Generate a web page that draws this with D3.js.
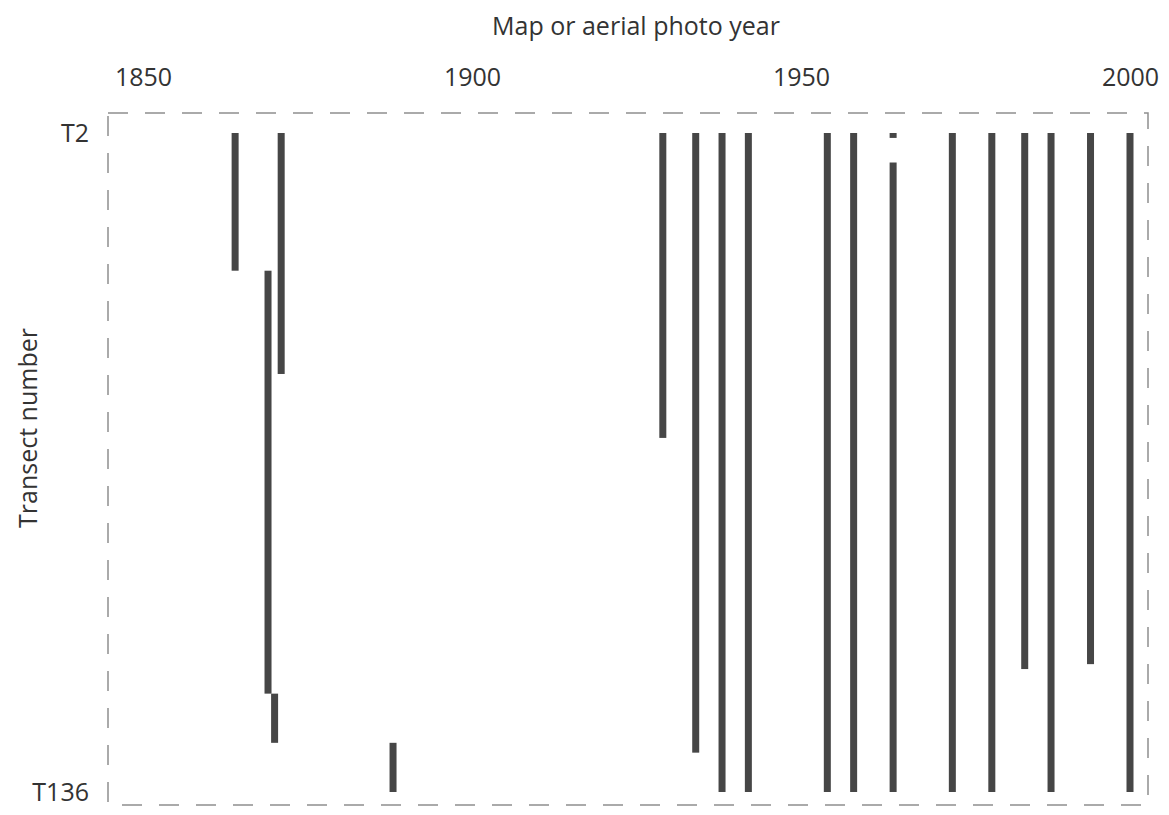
<!DOCTYPE html>
<html>
<head>
<meta charset="utf-8">
<script src="https://cdn.jsdelivr.net/npm/d3@7"></script>
<style>
  body { margin: 0; background: #fff; }
  text { font-family: "Open Sans", "Noto Sans", sans-serif; fill: #333; }
</style>
</head>
<body>
<div id="chartContainer"></div>
<script>
// data
// each bar = one map / aerial photo year covering a run of transects
let years    = [1864, 1869, 1870, 1871, 1888, 1929, 1934, 1938, 1942, 1954, 1958, 1964, 1964, 1973, 1979, 1984, 1988, 1994, 2000];
let start_t  = [2,    30,   116,  2,    126,  2,    2,    2,    2,    2,    2,    2,    8,    2,    2,    2,    2,    2,    2];
let end_t    = [30,   116,  126,  51,   136,  64,   128,  136,  136,  136,  136,  3,    136,  136,  136,  111,  136,  110,  136];

let tick_years = [1850, 1900, 1950, 2000];
let tick_transects = [2, 136];
let tick_transect_labels = ["T2", "T136"];

// chart properties
let BOX_WIDTH = 1169;
let BOX_HEIGHT = 815;
let FRAME_LEFT = 108;
let FRAME_RIGHT = 1148;
let FRAME_TOP = 113;
let FRAME_BOTTOM = 805;
let BAR_WIDTH = 7;
let BAR_COLOR = "#464646";
let FONT_SIZE = 25;

const svg = d3.select("#chartContainer")
    .append("svg")
    .attr("width", BOX_WIDTH)
    .attr("height", BOX_HEIGHT);

const xScale = d3.scaleLinear()
    .domain([1850, 2000])
    .range([143, 1130]);

const yScale = d3.scaleLinear()
    .domain([2, 136])
    .range([133, 792]);

// dashed frame
svg.append("rect")
    .attr("x", FRAME_LEFT)
    .attr("y", FRAME_TOP)
    .attr("width", FRAME_RIGHT - FRAME_LEFT)
    .attr("height", FRAME_BOTTOM - FRAME_TOP)
    .attr("fill", "none")
    .attr("stroke", "#8f8f8f")
    .attr("stroke-width", 1.5)
    .attr("stroke-dasharray", "20,17");

// bars
const bars = years.map((y, i) => ({ year: y, t0: start_t[i], t1: end_t[i] }));

svg.selectAll(".bar")
    .data(bars)
    .enter()
    .append("rect")
    .attr("class", "bar")
    .attr("x", d => xScale(d.year) - BAR_WIDTH / 2)
    .attr("y", d => yScale(d.t0))
    .attr("width", BAR_WIDTH)
    .attr("height", d => yScale(d.t1) - yScale(d.t0))
    .attr("fill", BAR_COLOR);

// top axis labels (no tick lines in the figure)
const xAxis = d3.axisTop(xScale)
    .tickValues(tick_years)
    .tickFormat(d3.format("d"))
    .tickSize(0)
    .tickPadding(0);

const gx = svg.append("g")
    .attr("transform", "translate(0, 86)")
    .call(xAxis);
gx.select(".domain").remove();
gx.selectAll("text")
    .attr("font-size", FONT_SIZE)
    .attr("fill", "#333")
    .style("font-family", "'Open Sans', sans-serif");

// left axis labels
const yAxis = d3.axisLeft(yScale)
    .tickValues(tick_transects)
    .tickFormat((d, i) => tick_transect_labels[i])
    .tickSize(0)
    .tickPadding(0);

const gy = svg.append("g")
    .attr("transform", "translate(89, 0)")
    .call(yAxis);
gy.select(".domain").remove();
gy.selectAll("text")
    .attr("font-size", FONT_SIZE)
    .attr("fill", "#333")
    .style("font-family", "'Open Sans', sans-serif");

// axis titles
svg.append("text")
    .attr("x", 636)
    .attr("y", 35)
    .attr("text-anchor", "middle")
    .attr("font-size", FONT_SIZE)
    .text("Map or aerial photo year");

svg.append("text")
    .attr("transform", "translate(37, 428) rotate(-90)")
    .attr("text-anchor", "middle")
    .attr("font-size", FONT_SIZE)
    .text("Transect number");
</script>
</body>
</html>
